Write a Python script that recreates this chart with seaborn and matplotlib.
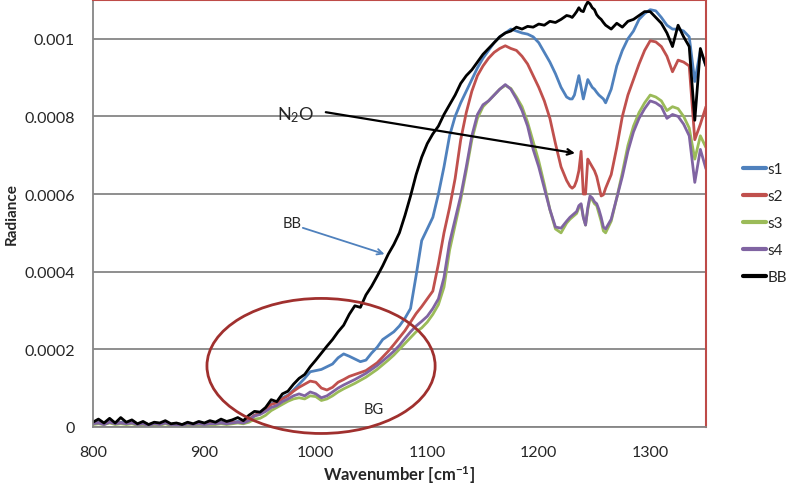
import numpy as np
import pandas as pd
import matplotlib
matplotlib.use("Agg")
import matplotlib.pyplot as plt
from matplotlib.patches import Ellipse
import seaborn as sns

# sampling grid of the spectra [cm-1]
wavenumber = np.concatenate([np.arange(800, 1226, 5),
                             np.arange(1228, 1261, 2),
                             np.arange(1265, 1351, 5)])

# radiance values, in units of 1e-4
s1 = [0.1, 0.12, 0.08, 0.14, 0.1, 0.12, 0.1, 0.1, 0.06, 0.1, 0.06, 0.08, 0.08, 0.1, 0.06,
      0.08, 0.06, 0.08, 0.06, 0.1, 0.08, 0.1, 0.08, 0.12, 0.1, 0.12, 0.14, 0.12, 0.2,
      0.3, 0.35, 0.45, 0.6, 0.62, 0.75, 0.82, 0.95, 1.1, 1.25,
      1.42, 1.45, 1.48, 1.55, 1.62, 1.78, 1.88, 1.82, 1.75, 1.68,
      1.72, 1.9, 2.05, 2.25, 2.35, 2.45, 2.6, 2.8, 3.05, 3.9,
      4.8, 5.1, 5.4, 6.0, 6.7, 7.5, 8.0, 8.35, 8.65, 8.95,
      9.25, 9.5, 9.7, 9.9, 10.05, 10.15, 10.25, 10.2, 10.15, 10.12,
      10.05, 9.9, 9.65, 9.4, 9.1, 8.75, 8.5,
      8.45, 8.45, 8.55, 8.8, 9.05, 8.75, 8.45, 8.7, 8.95, 8.85, 8.75, 8.7, 8.62, 8.55, 8.5, 8.45, 8.35,
      8.7, 9.3, 9.7, 10.0, 10.2, 10.5, 10.65, 10.75, 10.72, 10.55, 10.35, 10.25, 10.25, 10.2,
      10.05, 8.9, 9.7, 9.3]

s2 = [0.1, 0.1, 0.08, 0.12, 0.1, 0.1, 0.08, 0.1, 0.06, 0.1, 0.06, 0.08, 0.06, 0.1, 0.06,
      0.08, 0.06, 0.08, 0.06, 0.08, 0.08, 0.1, 0.08, 0.1, 0.1, 0.12, 0.12, 0.12, 0.18,
      0.3, 0.35, 0.45, 0.58, 0.62, 0.72, 0.8, 0.92, 1.02, 1.1,
      1.18, 1.15, 1.0, 0.95, 1.02, 1.15, 1.22, 1.3, 1.35, 1.4,
      1.45, 1.55, 1.65, 1.8, 1.95, 2.12, 2.3, 2.48, 2.7, 2.92,
      3.1, 3.3, 3.5, 4.2, 5.0, 5.65, 6.4, 7.4, 8.1, 8.65,
      9.05, 9.3, 9.5, 9.65, 9.75, 9.82, 9.75, 9.7, 9.55, 9.35,
      9.05, 8.75, 8.4, 7.95, 7.3, 6.7, 6.35,
      6.2, 6.15, 6.2, 6.35, 6.6, 7.1, 6.0, 6.0, 6.9, 6.8, 6.7, 6.6, 6.45, 6.2, 5.95, 5.98, 6.15,
      6.5, 7.2, 8.0, 8.55, 8.95, 9.35, 9.7, 9.95, 9.92, 9.8, 9.55, 9.15, 9.45, 9.4,
      9.3, 7.4, 7.8, 8.25]

s3 = [0.06, 0.08, 0.06, 0.1, 0.06, 0.08, 0.06, 0.08, 0.04, 0.06, 0.04, 0.06, 0.04, 0.08, 0.04,
      0.06, 0.04, 0.06, 0.04, 0.06, 0.06, 0.06, 0.06, 0.08, 0.06, 0.08, 0.1, 0.08, 0.12,
      0.2, 0.22, 0.3, 0.42, 0.5, 0.58, 0.66, 0.72, 0.75, 0.72,
      0.8, 0.78, 0.68, 0.72, 0.8, 0.9, 0.98, 1.05, 1.12, 1.2,
      1.28, 1.38, 1.48, 1.6, 1.72, 1.85, 2.0, 2.15, 2.3, 2.45,
      2.55, 2.7, 2.9, 3.15, 3.6, 4.55, 5.2, 5.85, 6.6, 7.4,
      7.95, 8.25, 8.4, 8.55, 8.7, 8.8, 8.72, 8.5, 8.25, 7.85,
      7.35, 6.85, 6.25, 5.6, 5.1, 5.0, 5.25,
      5.35, 5.4, 5.45, 5.5, 5.65, 5.72, 5.4, 5.2, 5.6, 5.9, 5.85, 5.75, 5.7, 5.5, 5.3, 5.05, 5.0,
      5.3, 5.9, 6.55, 7.25, 7.75, 8.1, 8.35, 8.55, 8.5, 8.4, 8.15, 8.25, 8.2, 8.0,
      7.7, 6.9, 7.5, 7.2]

s4 = [0.08, 0.1, 0.06, 0.12, 0.08, 0.1, 0.08, 0.1, 0.06, 0.08, 0.04, 0.08, 0.06, 0.1, 0.06,
      0.06, 0.04, 0.08, 0.06, 0.08, 0.06, 0.08, 0.08, 0.1, 0.08, 0.1, 0.12, 0.1, 0.16,
      0.28, 0.32, 0.4, 0.5, 0.55, 0.65, 0.72, 0.8, 0.85, 0.8,
      0.9, 0.85, 0.75, 0.8, 0.9, 1.0, 1.08, 1.15, 1.22, 1.3,
      1.38, 1.48, 1.58, 1.7, 1.82, 1.95, 2.1, 2.28, 2.45, 2.6,
      2.72, 2.85, 3.05, 3.3, 3.85, 4.75, 5.35, 5.95, 6.7, 7.5,
      8.05, 8.3, 8.4, 8.55, 8.7, 8.82, 8.7, 8.45, 8.15, 7.75,
      7.15, 6.7, 6.15, 5.6, 5.15, 5.12, 5.3,
      5.4, 5.45, 5.5, 5.55, 5.7, 5.75, 5.4, 5.2, 5.65, 5.95, 5.9, 5.8, 5.75, 5.6, 5.4, 5.15, 5.1,
      5.35, 5.9, 6.45, 7.1, 7.6, 7.95, 8.2, 8.4, 8.35, 8.25, 7.95, 8.05, 8.0, 7.8,
      7.5, 6.3, 7.15, 6.65]

bb = [0.12, 0.2, 0.1, 0.22, 0.1, 0.24, 0.12, 0.18, 0.08, 0.14, 0.06, 0.12, 0.1, 0.16, 0.08,
      0.1, 0.06, 0.12, 0.08, 0.14, 0.1, 0.16, 0.12, 0.2, 0.14, 0.18, 0.24, 0.16, 0.3,
      0.4, 0.38, 0.5, 0.7, 0.65, 0.85, 0.92, 1.1, 1.25, 1.35,
      1.55, 1.72, 1.9, 2.08, 2.25, 2.45, 2.62, 2.9, 3.12, 3.08,
      3.4, 3.62, 3.88, 4.15, 4.45, 4.7, 5.0, 5.45, 5.95, 6.5,
      6.95, 7.3, 7.55, 7.75, 8.05, 8.3, 8.55, 8.85, 9.05, 9.2,
      9.4, 9.6, 9.75, 9.9, 10.05, 10.15, 10.2, 10.3, 10.25, 10.32,
      10.3, 10.38, 10.35, 10.45, 10.42, 10.5, 10.6,
      10.58, 10.55, 10.62, 10.7, 10.8, 10.72, 10.7, 10.85, 10.95, 10.9, 10.8, 10.75, 10.62, 10.55,
      10.5, 10.42, 10.35,
      10.25, 10.4, 10.3, 10.45, 10.5, 10.6, 10.7, 10.7, 10.55, 10.4, 10.15, 9.8, 10.35, 10.05,
      9.8, 7.9, 9.75, 9.3]

series_names = ["s1", "s2", "s3", "s4", "BB"]
series_colors = ["#4F81BD", "#C0504D", "#9BBB59", "#8064A2", "#000000"]
y_ticks = [0, 0.0002, 0.0004, 0.0006, 0.0008, 0.001]
y_tick_labels = ["0", "0.0002", "0.0004", "0.0006", "0.0008", "0.001"]
x_ticks = [800, 900, 1000, 1100, 1200, 1300]

frames = []
for name, vals in zip(series_names, [s1, s2, s3, s4, bb]):
    frames.append(pd.DataFrame({"wavenumber": wavenumber,
                                "radiance": np.array(vals) * 1e-4,
                                "series": name}))
df = pd.concat(frames, ignore_index=True)

sns.set_style("white")
plt.rcParams["font.family"] = ["Lato", "DejaVu Sans"]
plt.rcParams["mathtext.default"] = "regular"

fig, ax = plt.subplots(figsize=(7.87, 4.89), dpi=100)
fig.subplots_adjust(left=0.118, right=0.897, bottom=0.125, top=0.998)

sns.lineplot(data=df, x="wavenumber", y="radiance", hue="series",
             hue_order=series_names, palette=series_colors,
             estimator=None, linewidth=2, ax=ax)

ax.set_xlim(800, 1350)
ax.set_ylim(0, 0.0011)
ax.set_xticks(x_ticks)
ax.set_yticks(y_ticks)
ax.set_yticklabels(y_tick_labels)
ax.tick_params(axis="y", length=0, pad=13, labelsize=11.5)
ax.tick_params(axis="x", length=5, width=1, color="#868686", pad=8, labelsize=11.5,
               direction="out")
ax.yaxis.grid(True, color="#868686", linewidth=1.3)
ax.set_axisbelow(True)

for side in ["left", "bottom"]:
    ax.spines[side].set_color("#868686")
    ax.spines[side].set_linewidth(1.3)
for side in ["top", "right"]:
    ax.spines[side].set_color("#BE4B48")
    ax.spines[side].set_linewidth(1.5)

ax.set_xlabel("Wavenumber [cm$^{-1}$]", fontweight="bold", fontsize=12, labelpad=3)
ax.set_ylabel("Radiance", fontweight="bold", fontsize=11, labelpad=4)

# annotations
ax.add_patch(Ellipse((1004.7, 0.000157), 204.7, 0.000348, fill=False,
                     edgecolor="#A0302E", linewidth=2, clip_on=False, zorder=5))
ax.text(1052, 0.0000464, "BG", fontsize=10.5, ha="center", va="center")

ax.annotate("", xy=(1235, 0.000704), xytext=(1006.5, 0.000812),
            arrowprops=dict(arrowstyle="->", color="black", lw=1.6))
ax.text(982, 0.000807, "N$_2$O", fontsize=13, ha="center", va="center")

ax.annotate("", xy=(1064, 0.000443), xytext=(986, 0.000515),
            arrowprops=dict(arrowstyle="->", color="#4F81BD", lw=1.3))
ax.text(978.6, 0.000526, "BB", fontsize=10.5, ha="center", va="center")

leg = ax.legend(loc="center left", bbox_to_anchor=(0.936, 0.542),
                bbox_transform=fig.transFigure, frameon=False, fontsize=11,
                handlelength=1.5, handletextpad=0.1, labelspacing=0.85,
                borderaxespad=0)
for line in leg.get_lines():
    line.set_linewidth(3)

fig.savefig("out.png", dpi=100)
